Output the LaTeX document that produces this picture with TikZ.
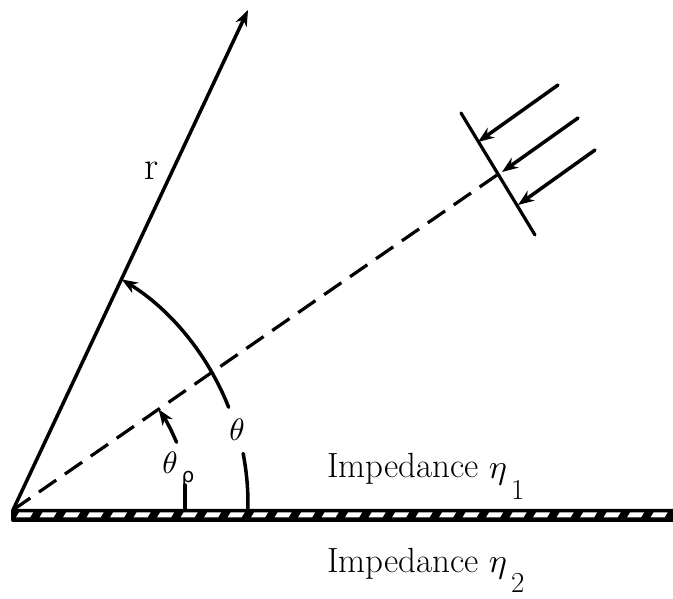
\documentclass[tikz,border=0pt]{standalone}
\usepackage{fontspec}
\newfontfamily\rhofont{DejaVu Sans}
\usetikzlibrary{arrows.meta}
\newcommand{\bigth}{{\fontsize{10}{12}\selectfont\scalebox{3.1}{$\theta$}}}
\newcommand{\bigeta}{{\fontsize{10}{12}\selectfont\scalebox{3.4}{$\eta$}}}
\begin{document}
\begin{tikzpicture}[x=1pt,y=1pt,
  ln/.style={line width=3.5pt, line cap=round},
  tipped/.style={-{Stealth[length=16pt,width=12pt,inset=5pt]}},
  lbl/.style={inner sep=0pt, font=\fontsize{35}{40}\selectfont},
  thlbl/.style={inner sep=0pt},
  dashline/.style={line width=3.2pt, dash pattern=on 21pt off 10.53pt}]
\useasboundingbox (0,0) rectangle (673,598);
% key points
\coordinate (O) at (13,88);
\coordinate (R) at (248,588);
\coordinate (W) at (497,423);
\coordinate (F1) at (461,485);
\coordinate (F2) at (535,363);
\coordinate (C) at (-17,94);
% ground strip
\fill[black, rounded corners=2pt] (11,76) rectangle (690,89);
\foreach \x in {16,39.5,...,690}{
  \fill[white] (\x,80.5) -- ++(14,0) -- ++(3,5) -- ++(-14,0) -- cycle;
}
% radius r
\draw[ln, tipped] (O) -- (R);
% dashed direction of incidence
\draw[dashline] (O) -- (W);
% wavefront
\draw[line width=3.2pt, line cap=round] (F1) -- (F2);
% incident rays
\coordinate (A1s) at (558,513); \coordinate (A1t) at (478,456);
\coordinate (A2s) at (578,480); \coordinate (A2t) at (502,426);
\coordinate (A3s) at (595,448); \coordinate (A3t) at (518,393);
\draw[ln, tipped] (A1s) -- (A1t);
\draw[ln, tipped] (A2s) -- (A2t);
\draw[ln, tipped] (A3s) -- (A3t);
% angle theta
\draw[ln] (C) ++(-1:265) arc (-1:11:265);
\draw[ln, tipped] (C) ++(21.5:264) arc (21.5:58.3:264);
\node[thlbl] (th) at (237,168) {\bigth};
% angle theta_rho
\draw[ln, tipped] (O) ++(22.5:177) arc (22.5:34.69:177);
\node[thlbl] (thr) at (170,135) {\bigth};
\node[inner sep=0pt, anchor=base west, font=\rhofont\fontsize{20}{24}\selectfont] (rho) at (181.5,115) {ρ};
\coordinate (S) at (185,88);
\draw[ln] (S) -- (185,113);
% r label
\node[inner sep=0pt, font=\fontsize{40}{44}\selectfont] (rl) at (152,427) {r};
% impedance labels
\node[lbl, anchor=base west] (imp1) at (327,120) {Impedance\hspace{10pt}\bigeta\hspace{4pt}\raisebox{-22pt}{\fontsize{29}{34}\selectfont 1}};
\node[lbl, anchor=base west] (imp2) at (327,26) {Impedance\hspace{10pt}\bigeta\hspace{4pt}\raisebox{-21pt}{\fontsize{29}{34}\selectfont 2}};
\end{tikzpicture}
\end{document}
